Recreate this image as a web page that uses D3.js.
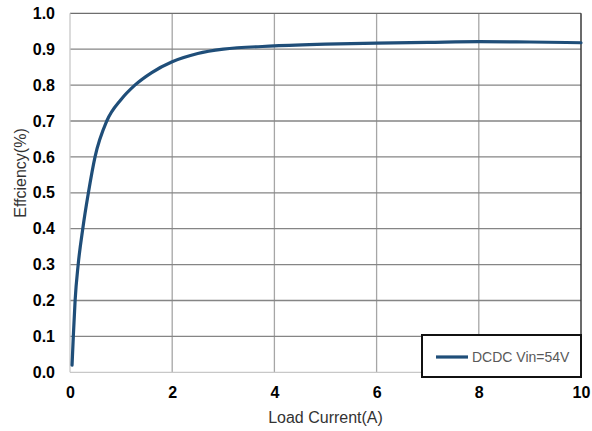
<!DOCTYPE html>
<html>
<head>
<meta charset="utf-8">
<script src="https://cdn.jsdelivr.net/npm/d3@7"></script>
<style>
  body { margin: 0; background: #fff; }
  text { font-family: "Liberation Sans", Arial, sans-serif; }
</style>
</head>
<body>
<div id="chart"></div>
<script>
// Efficiency curve
const loadCurrent = [0.04, 0.065, 0.1, 0.16, 0.25, 0.36, 0.49, 0.72, 1.0, 1.27, 1.6, 2.0, 2.5, 3, 4, 5, 6, 7, 8, 9, 10];
const efficiency = [0.02, 0.1, 0.2, 0.3, 0.4, 0.5, 0.6, 0.7, 0.76, 0.8, 0.835, 0.865, 0.888, 0.9, 0.909, 0.914, 0.917, 0.919, 0.921, 0.92, 0.918];

const xTicks = [0, 2, 4, 6, 8, 10];
const yTicks = [0, 0.1, 0.2, 0.3, 0.4, 0.5, 0.6, 0.7, 0.8, 0.9, 1.0];
const seriesName = 'DCDC Vin=54V';

const width = 592, height = 431;
const margin = { top: 13.3, right: 11, bottom: 58.7, left: 70 };

const svg = d3.select('#chart')
  .append('svg')
  .attr('width', width)
  .attr('height', height);

const x = d3.scaleLinear()
  .domain([0, 10])
  .range([margin.left, width - margin.right]);

const y = d3.scaleLinear()
  .domain([0, 1])
  .range([height - margin.bottom, margin.top]);

// vertical grid
svg.append('g')
  .selectAll('line')
  .data(xTicks.slice(1, -1))
  .join('line')
    .attr('x1', d => x(d)).attr('x2', d => x(d))
    .attr('y1', y(1)).attr('y2', y(0))
    .attr('stroke', '#a6a6a6')
    .attr('stroke-width', 1.3);

// horizontal grid
svg.append('g')
  .selectAll('line')
  .data(yTicks.slice(1))
  .join('line')
    .attr('x1', x(0)).attr('x2', x(10))
    .attr('y1', d => y(d)).attr('y2', d => y(d))
    .attr('stroke', d => d === 1 ? '#6e6e6e' : '#858585')
    .attr('stroke-width', 1.3);

// plot frame: light left / bottom, dark right
svg.append('line')
  .attr('x1', x(0)).attr('x2', x(0))
  .attr('y1', y(1)).attr('y2', y(0))
  .attr('stroke', '#c8c8c8').attr('stroke-width', 1.3);
svg.append('line')
  .attr('x1', x(0)).attr('x2', x(10))
  .attr('y1', y(0)).attr('y2', y(0))
  .attr('stroke', '#c8c8c8').attr('stroke-width', 1.3);
svg.append('line')
  .attr('x1', x(10)).attr('x2', x(10))
  .attr('y1', y(1)).attr('y2', y(0))
  .attr('stroke', '#3a3a3a').attr('stroke-width', 1.5);

// axes (labels only)
const xAxis = svg.append('g')
  .attr('transform', `translate(0,${y(0)})`)
  .call(d3.axisBottom(x).tickValues(xTicks).tickSize(0).tickPadding(14).tickFormat(d3.format('d')));
const yAxis = svg.append('g')
  .attr('transform', `translate(${x(0)},0)`)
  .call(d3.axisLeft(y).tickValues(yTicks).tickSize(0).tickPadding(15).tickFormat(d3.format('.1f')));

[xAxis, yAxis].forEach(g => {
  g.select('.domain').remove();
  g.selectAll('text')
    .attr('font-family', '"Liberation Sans", Arial, sans-serif')
    .attr('font-size', 16)
    .attr('font-weight', 'bold')
    .attr('fill', '#000');
});

// curve
const line = d3.line()
  .x((d, i) => x(loadCurrent[i]))
  .y(d => y(d))
  .curve(d3.curveMonotoneX);

svg.append('path')
  .datum(efficiency)
  .attr('d', line)
  .attr('fill', 'none')
  .attr('stroke', '#1f4e79')
  .attr('stroke-width', 3.2)
  .attr('stroke-linecap', 'round');

// axis titles
svg.append('text')
  .attr('x', x(5))
  .attr('y', 423)
  .attr('text-anchor', 'middle')
  .attr('font-size', 16)
  .attr('fill', '#333')
  .text('Load Current(A)');

svg.append('text')
  .attr('transform', 'translate(26,173) rotate(-90)')
  .attr('text-anchor', 'middle')
  .attr('font-size', 16)
  .attr('fill', '#333')
  .text('Effciency(%)');

// legend
const legend = svg.append('g');
legend.append('rect')
  .attr('x', 422).attr('y', 335)
  .attr('width', 159).attr('height', 42)
  .attr('fill', '#fff')
  .attr('stroke', '#111')
  .attr('stroke-width', 2);
legend.append('line')
  .attr('x1', 436).attr('x2', 468)
  .attr('y1', 357).attr('y2', 357)
  .attr('stroke', '#1f4e79')
  .attr('stroke-width', 3.2);
legend.append('text')
  .attr('x', 472).attr('y', 362)
  .attr('font-size', 14)
  .attr('fill', '#595959')
  .text(seriesName);
</script>
</body>
</html>
